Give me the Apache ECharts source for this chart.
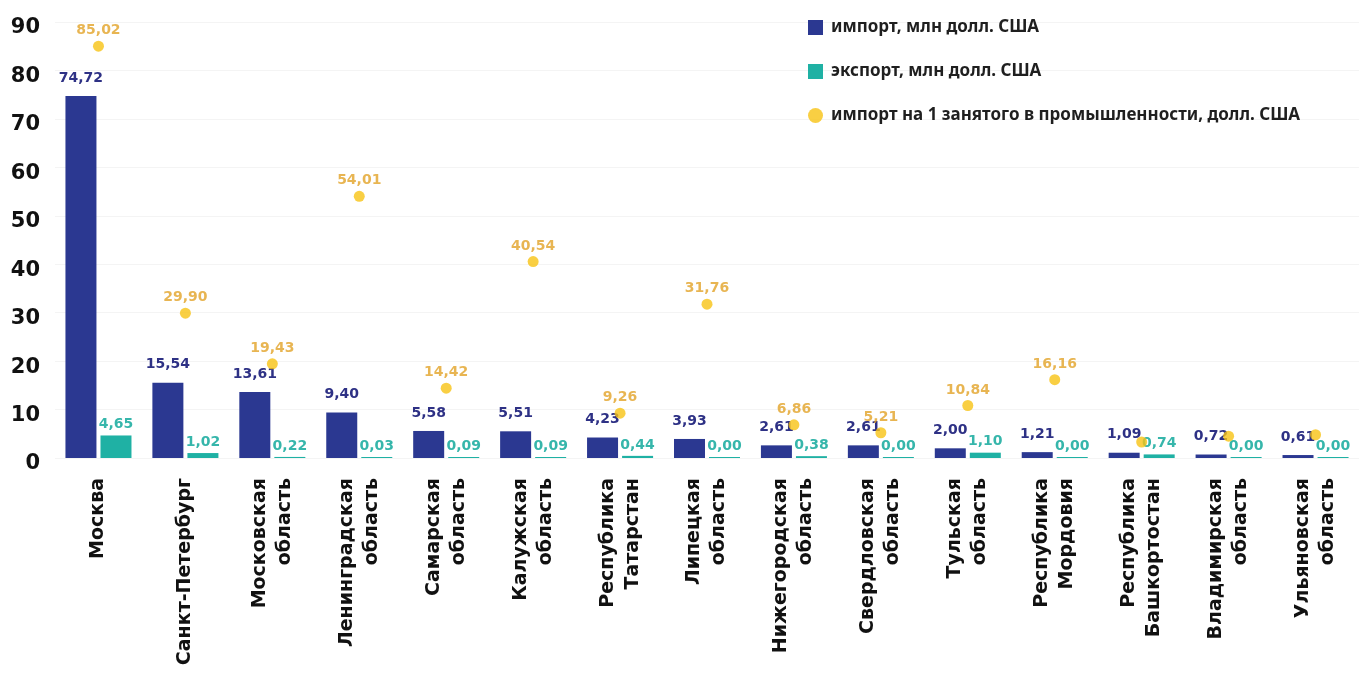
<!DOCTYPE html>
<html>
<head>
<meta charset="utf-8">
<script src="https://cdn.jsdelivr.net/npm/echarts@6/dist/echarts.min.js"></script>
<style>
  html, body { margin: 0; padding: 0; background: #fff; }
  #chart { width: 1372px; height: 673px; }
</style>
</head>
<body>
<div id="chart"></div>
<script>
// Регионы
const regions = [
  'Москва', 'Санкт-Петербург', 'Московская\nобласть', 'Ленинградская\nобласть',
  'Самарская\nобласть', 'Калужская\nобласть', 'Республика\nТатарстан', 'Липецкая\nобласть',
  'Нижегородская\nобласть', 'Свердловская\nобласть', 'Тульская\nобласть', 'Республика\nМордовия',
  'Республика\nБашкортостан', 'Владимирская\nобласть', 'Ульяновская\nобласть'
];
// импорт, млн долл. США
const importValues = [74.72, 15.54, 13.61, 9.40, 5.58, 5.51, 4.23, 3.93, 2.61, 2.61, 2.00, 1.21, 1.09, 0.72, 0.61];
// экспорт, млн долл. США
const exportValues = [4.65, 1.02, 0.22, 0.03, 0.09, 0.09, 0.44, 0.00, 0.38, 0.00, 1.10, 0.00, 0.74, 0.00, 0.00];
// импорт на 1 занятого в промышленности, долл. США (последние три точки без подписи)
const perWorker = [85.02, 29.90, 19.43, 54.01, 14.42, 40.54, 9.26, 31.76, 6.86, 5.21, 10.84, 16.16, 3.3, 4.5, 4.8];
const perWorkerLabeled = [true, true, true, true, true, true, true, true, true, true, true, true, false, false, false];
// Деления оси значений
const yTicks = { min: 0, max: 90, interval: 10 };

const seriesNames = [
  'импорт, млн долл. США',
  'экспорт, млн долл. США',
  'импорт на 1 занятого в промышленности, долл. США'
];

const FONT = '"Noto Sans", "DejaVu Sans", sans-serif';
const WIDE = '"DejaVu Sans", "Noto Sans", sans-serif';
const fmt = v => v.toFixed(2).replace('.', ',');

const chart = echarts.init(document.getElementById('chart'));
chart.setOption({
  animation: false,
  backgroundColor: '#ffffff',
  textStyle: { fontFamily: FONT },
  grid: { left: 55, right: 13, top: 22, bottom: 215, outerBoundsMode: 'none', containLabel: false },
  legend: {
    orient: 'vertical',
    left: 803,
    top: 14,
    itemWidth: 15,
    itemHeight: 15,
    itemGap: 27,
    textStyle: { fontFamily: FONT, fontSize: 17, fontWeight: 'bold', color: '#1f1f1f', padding: [0, 0, 0, 3] },
    data: [
      { name: seriesNames[0], icon: 'rect' },
      { name: seriesNames[1], icon: 'rect' },
      { name: seriesNames[2], icon: 'circle' }
    ]
  },
  xAxis: {
    type: 'category',
    data: regions,
    axisLine: { show: false },
    axisTick: { show: false },
    axisLabel: {
      rotate: 90,
      margin: 20,
      interval: 0,
      fontFamily: WIDE,
      fontSize: 19,
      fontWeight: 'bold',
      color: '#111',
      lineHeight: 25
    }
  },
  yAxis: {
    type: 'value',
    min: yTicks.min,
    max: yTicks.max,
    interval: yTicks.interval,
    axisLine: { show: false },
    axisTick: { show: false },
    splitLine: { show: true, lineStyle: { color: '#f4f4f4', width: 1 } },
    axisLabel: {
      margin: 15,
      formatter: v => '{t|' + v + '}',
      rich: {
        t: {
          fontFamily: WIDE,
          fontSize: 21,
          fontWeight: 'bold',
          color: '#111',
          padding: [12, 0, 0, 0]
        }
      }
    }
  },
  series: [
    {
      name: seriesNames[0],
      type: 'bar',
      data: importValues,
      barWidth: 31,
      barGap: '13%',
      itemStyle: { color: '#2b3891' },
      label: {
        show: true,
        position: 'top',
        distance: 11,
        formatter: p => fmt(p.value),
        fontFamily: WIDE,
        fontSize: 14,
        fontWeight: 'bold',
        color: '#2e3185'
      }
    },
    {
      name: seriesNames[1],
      type: 'bar',
      data: exportValues,
      barWidth: 31,
      barMinHeight: 1,
      itemStyle: { color: '#1fb1a4' },
      label: {
        show: true,
        position: 'top',
        distance: 4,
        formatter: p => fmt(p.value),
        fontFamily: WIDE,
        fontSize: 14,
        fontWeight: 'bold',
        color: '#36b6ab'
      }
    },
    {
      name: seriesNames[2],
      type: 'scatter',
      data: perWorker,
      symbol: 'circle',
      symbolSize: 11,
      itemStyle: { color: '#f8c314' },
      z: 5,
      label: {
        show: true,
        position: 'top',
        distance: 3,
        formatter: p => perWorkerLabeled[p.dataIndex] ? fmt(p.value) : '',
        fontFamily: WIDE,
        fontSize: 14,
        fontWeight: 'bold',
        color: '#e2a227'
      }
    }
  ]
});
</script>
</body>
</html>
